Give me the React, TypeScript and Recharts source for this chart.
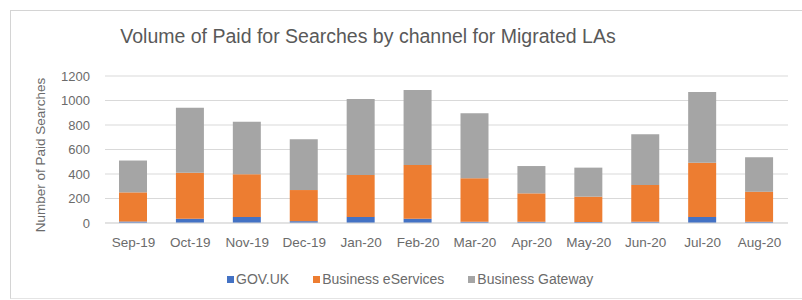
import { BarChart, Bar, XAxis, YAxis, CartesianGrid } from "recharts";

const months = ["Sep-19", "Oct-19", "Nov-19", "Dec-19", "Jan-20", "Feb-20", "Mar-20", "Apr-20", "May-20", "Jun-20", "Jul-20", "Aug-20"];
const govUk = [12, 35, 50, 15, 50, 35, 10, 10, 8, 10, 50, 10];
const businessEServices = [238, 375, 347, 254, 342, 438, 355, 232, 207, 300, 442, 246];
const businessGateway = [260, 530, 430, 414, 620, 613, 530, 223, 237, 414, 577, 280];
const yTicks = [0, 200, 400, 600, 800, 1000, 1200];

const data = months.map((m, i) => ({
  month: m,
  gov: govUk[i],
  bes: businessEServices[i],
  bg: businessGateway[i],
}));

const series = [
  { key: "gov", name: "GOV.UK", color: "#4472C4" },
  { key: "bes", name: "Business eServices", color: "#ED7D31" },
  { key: "bg", name: "Business Gateway", color: "#A5A5A5" },
];

const font = "'Liberation Sans', Arial, sans-serif";
const textGrey = "#6b6b6b";

export default function App() {
  return (
    <div style={{ position: "absolute", left: 0, top: 0, width: 802, height: 300, background: "#fff", fontFamily: font, overflow: "hidden" }}>
      <div
        style={{
          position: "absolute",
          left: 10,
          top: 10,
          width: 800,
          height: 287,
          borderTop: "1px solid #d4d4d4",
          borderLeft: "1px solid #d4d4d4",
          borderBottom: "1px solid #e4e4e4",
        }}
      />
      <div
        style={{
          position: "absolute",
          left: 118,
          top: 25,
          width: 500,
          textAlign: "center",
          fontSize: 19.5,
          color: "#595959",
          whiteSpace: "nowrap",
        }}
      >
        Volume of Paid for Searches by channel for Migrated LAs
      </div>
      <div
        style={{
          position: "absolute",
          left: 40,
          top: 155,
          transform: "translate(-50%, -50%) rotate(-90deg)",
          fontSize: 13.5,
          color: textGrey,
          whiteSpace: "nowrap",
        }}
      >
        Number of Paid Searches
      </div>
      <div style={{ position: "absolute", left: 0, top: 0 }}>
        <BarChart width={802} height={300} data={data} margin={{ top: 76, right: 14, bottom: 47, left: 45 }} barSize={28}>
          <CartesianGrid vertical={false} stroke="#d9d9d9" />
          <XAxis
            dataKey="month"
            height={30}
            axisLine={{ stroke: "#d9d9d9" }}
            tickLine={false}
            tickMargin={8}
            tick={{ fill: textGrey, fontSize: 13.5, fontFamily: font }}
            interval={0}
          />
          <YAxis
            width={60}
            domain={[0, 1200]}
            ticks={yTicks}
            interval={0}
            axisLine={false}
            tickLine={false}
            tickMargin={9}
            tick={{ fill: textGrey, fontSize: 13, fontFamily: font }}
          />
          {series.map((s) => (
            <Bar key={s.key} dataKey={s.key} name={s.name} stackId="a" fill={s.color} isAnimationActive={false} />
          ))}
        </BarChart>
      </div>
      <div
        style={{
          position: "absolute",
          left: 227,
          top: 271,
          display: "flex",
          gap: 24,
          fontSize: 14,
          color: textGrey,
          whiteSpace: "nowrap",
        }}
      >
        {series.map((s) => (
          <div key={s.key} style={{ display: "flex", alignItems: "center" }}>
            <span style={{ display: "inline-block", width: 7, height: 7, background: s.color, marginRight: 2 }} />
            <span>{s.name}</span>
          </div>
        ))}
      </div>
    </div>
  );
}
